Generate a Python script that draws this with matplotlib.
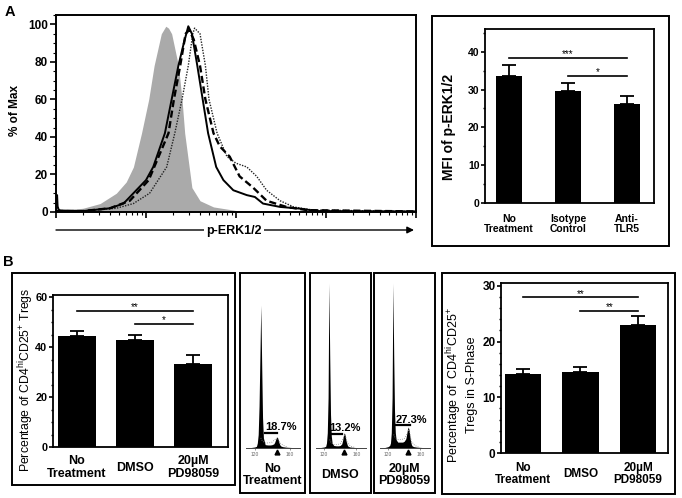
import numpy as np
import matplotlib
matplotlib.use("Agg")
import matplotlib.pyplot as plt
from matplotlib.patches import Rectangle
from matplotlib.ticker import MultipleLocator, LogLocator, NullFormatter

plt.rcParams["font.family"] = ["Liberation Sans", "DejaVu Sans"]
plt.rcParams["font.weight"] = "bold"
plt.rcParams["mathtext.default"] = "regular"

W, H = 682, 498

# ---- panel A: p-ERK1/2 histogram (x in log10 decades, y in % of max)
gray_dec = [0.0, 0.3, 0.49, 0.67, 0.78, 0.86, 0.95, 1.03, 1.09, 1.17, 1.22,
            1.25, 1.285, 1.36, 1.40, 1.43, 1.51, 1.6, 1.75, 2.0, 4.0]
gray_pct = [0.5, 2, 4.5, 10, 16, 24, 42, 60, 78, 95, 99,
            98, 95, 78, 60, 42, 13, 6, 2.7, 0.8, 0.3]
solid_dec = [0.0, 0.012, 0.018, 0.03, 0.05, 0.3, 0.6, 0.75, 0.86, 1.0, 1.08,
             1.21, 1.285, 1.36, 1.42, 1.47, 1.51, 1.57, 1.63, 1.69, 1.78,
             1.86, 1.97, 2.12, 2.21, 2.30, 2.49, 2.71, 2.9, 4.0]
solid_pct = [0.5, 9, 3, 1.2, 0.8, 0.5, 2, 4.5, 10, 17, 24,
             42, 60, 78, 90, 99, 95, 78, 60, 42, 24,
             17, 11.6, 9, 8, 4.5, 2.7, 1.8, 0.5, 0.3]
dash_dec = [0.0, 0.3, 0.6, 0.82, 1.03, 1.25, 1.31, 1.38, 1.44, 1.48, 1.53,
            1.6, 1.66, 1.75, 1.82, 1.93, 2.04, 2.19, 2.34, 2.56, 2.79, 4.0]
dash_pct = [0.5, 0.5, 2, 6, 17, 42, 60, 78, 95, 97, 92,
            78, 60, 42, 35, 29.5, 19, 13, 6, 2.7, 1, 0.3]
dot_dec = [0.0, 0.3, 0.67, 0.86, 1.04, 1.23, 1.32, 1.40, 1.47, 1.52, 1.54,
           1.6, 1.66, 1.70, 1.79, 1.9, 2.0, 2.12, 2.23, 2.34, 2.49, 2.64,
           2.86, 4.0]
dot_pct = [0.3, 0.5, 2, 4.5, 10, 24, 42, 60, 78, 95, 98,
           95, 78, 60, 42, 29.5, 26, 24, 19, 11.6, 6, 2.7,
           1, 0.3]

# ---- panel A: MFI bars
a_labels = ["No\nTreatment", "Isotype\nControl", "Anti-\nTLR5"]
a_mean = [33.5, 29.6, 26.1]
a_err = [3.1, 2.2, 2.1]
a_sig = [(0, 2, 38.4, "***"), (1, 2, 33.7, "*")]

# ---- panel B: Treg percentage bars
b_labels = ["No\nTreatment", "DMSO", "20\u00b5M\nPD98059"]
b1_mean = [44.4, 43.0, 33.5]
b1_err = [2.0, 2.0, 3.3]
b1_sig = [(0, 2, 54.6, "**"), (1, 2, 49.3, "*")]

# ---- panel B: S-phase bars
b2_mean = [14.1, 14.6, 23.0]
b2_err = [1.0, 0.8, 1.6]
b2_sig = [(0, 2, 27.9, "**"), (1, 2, 25.5, "**")]

# ---- panel B: cell-cycle histograms
cycle_ch = [110, 116, 120, 122, 123, 124, 125, 126, 127, 128, 129, 130, 132,
            135, 138, 140, 142, 143, 144, 145, 146, 147, 148, 149, 150, 152,
            156, 162, 172]
nt_counts = [0, 0.3, 0.6, 1, 3, 8, 25, 55, 85, 50, 18, 6, 2,
             1.8, 1.8, 2, 2.5, 3.5, 5, 6.2, 6.5, 5, 3, 1.8, 1.2, 0.8,
             0.5, 0.3, 0.2]
dmso_counts = [0, 0.3, 0.6, 1, 3, 9, 30, 98, 55, 20, 7, 3, 1.5,
               1.3, 1.3, 1.5, 2.5, 4.5, 7.5, 9, 8, 5, 3, 1.5, 1, 0.6,
               0.4, 0.2, 0.1]
pd_counts = [0, 0.3, 0.8, 1.5, 3, 9, 30, 98, 55, 22, 9, 5, 3.5,
             3.5, 3.5, 4, 5.5, 8, 11, 12.5, 11, 7, 4, 2, 1.2, 0.8,
             0.5, 0.3, 0.2]
fit_ch = [127, 129, 132, 136, 140, 143, 146, 149, 153, 158]
nt_fit = [6, 4, 3, 3, 3.5, 5, 6, 3, 1.5, 0.5]
dmso_fit = [5, 3, 2, 2, 2.5, 5, 8, 3, 1, 0.4]
pd_fit = [8, 6, 5, 5, 5.5, 8, 11, 4, 1.5, 0.5]
s_phase_pct = ["18.7%", "13.2%", "27.3%"]
gate_lo = [132, 127, 129]
gate_hi = [146, 142, 147]
gate_y = [9, 8.5, 13.5]
g2_peak = [146, 145, 145]


def px_axes(fig, x0, y0, x1, y1):
    return fig.add_axes([x0 / W, 1 - y1 / H, (x1 - x0) / W, (y1 - y0) / H])


def px_box(fig, x0, y0, x1, y1, lw=1.4):
    fig.add_artist(Rectangle((x0 / W, 1 - y1 / H), (x1 - x0) / W,
                             (y1 - y0) / H, transform=fig.transFigure,
                             fill=False, lw=lw, ec="black"))


def px_text(fig, x, y, s, **kw):
    fig.text(x / W, 1 - y / H, s, **kw)


def bar_panel(ax, labels, means, errs, sigs, ylim, xlim, width, major, minor,
              tick_fs, label_fs, pad):
    x = np.arange(len(means))
    ax.bar(x, means, width=width, color="black", zorder=2)
    ax.errorbar(x, means, yerr=[np.zeros(len(errs)), errs], fmt="none",
                ecolor="black", elinewidth=1.3, capsize=5, capthick=1.3,
                zorder=1)
    for i, j, y, stars in sigs:
        ax.plot([x[i], x[j]], [y, y], color="black", lw=1.2)
        ax.annotate(stars, xy=((x[i] + x[j]) / 2, y), xytext=(0, 0.5),
                    textcoords="offset points", ha="center", va="baseline",
                    fontsize=7, fontweight="normal")
    ax.set_xlim(*xlim)
    ax.set_ylim(*ylim)
    ax.set_xticks(x, labels, fontsize=label_fs)
    for lab in ax.get_xticklabels():
        lab.set_va("center")
        lab.set_linespacing(1.05)
    ax.tick_params(axis="x", length=0, pad=pad)
    ax.yaxis.set_major_locator(MultipleLocator(major))
    ax.yaxis.set_minor_locator(MultipleLocator(minor))
    ax.tick_params(axis="y", which="major", length=3, width=1.2,
                   labelsize=tick_fs, pad=1)
    ax.tick_params(axis="y", which="minor", length=1.8, width=1)
    for s in ax.spines.values():
        s.set_linewidth(1.3)


def main():
    fig = plt.figure(figsize=(W / 100, H / 100), dpi=100)

    # ---------------- A: histogram
    ax = px_axes(fig, 56, 15, 416, 212)
    ax.fill_between(np.power(10.0, gray_dec), gray_pct, color="#aaaaaa", lw=0)
    ax.plot(np.power(10.0, dot_dec), dot_pct, color="#222222", lw=1.0,
            ls=(0, (1, 1)))
    ax.plot(np.power(10.0, dash_dec), dash_pct, color="black", lw=1.7,
            ls=(0, (3, 1.5)))
    ax.plot(np.power(10.0, solid_dec), solid_pct, color="black", lw=1.4)
    ax.set_xscale("log")
    ax.set_xlim(1, 1e4)
    ax.set_ylim(0, 105)
    ax.xaxis.set_major_locator(LogLocator(base=10))
    ax.xaxis.set_minor_locator(LogLocator(base=10, subs=range(2, 10)))
    ax.xaxis.set_major_formatter(NullFormatter())
    ax.xaxis.set_minor_formatter(NullFormatter())
    ax.yaxis.set_major_locator(MultipleLocator(20))
    ax.yaxis.set_minor_locator(MultipleLocator(5))
    ax.tick_params(which="major", length=4, width=1.2, labelsize=8.5, pad=2)
    ax.tick_params(which="minor", length=2, width=0.8)
    for s in ax.spines.values():
        s.set_linewidth(1.4)
    px_text(fig, 15, 110, "% of Max", rotation=90, ha="center", va="center",
            fontsize=8.5)
    ax.annotate("", xy=(414 / W, 1 - 230 / H), xytext=(56 / W, 1 - 230 / H),
                xycoords="figure fraction", textcoords="figure fraction",
                arrowprops=dict(arrowstyle="-|>", color="black", lw=1.0,
                                mutation_scale=10, shrinkA=0, shrinkB=0))
    px_text(fig, 234, 231, "p-ERK1/2", ha="center", va="center", fontsize=9,
            bbox=dict(facecolor="white", edgecolor="none", pad=1.5))
    px_text(fig, 5, 12, "A", ha="left", va="center", fontsize=10.5)

    # ---------------- A: MFI bars
    px_box(fig, 432, 16, 669, 246)
    ax = px_axes(fig, 485, 29, 654, 203)
    bar_panel(ax, a_labels, a_mean, a_err, a_sig, (0, 46), (-0.41, 2.46),
              0.44, 10, 5, 7.5, 7.5, 15)
    px_text(fig, 449, 127, "MFI of p-ERK1/2", rotation=90, ha="center",
            va="center", fontsize=10)

    # ---------------- B: Treg percentage bars
    px_text(fig, 3, 262, "B", ha="left", va="center", fontsize=10.5)
    px_box(fig, 12, 273, 235, 485)
    ax = px_axes(fig, 53, 295, 228, 447)
    bar_panel(ax, b_labels, b1_mean, b1_err, b1_sig, (0, 61), (-0.41, 2.6),
              0.655, 20, 5, 7.8, 9, 14.8)
    px_text(fig, 26, 380,
            "Percentage of CD4$^{hi}$CD25$^{+}$ Tregs", rotation=90,
            ha="center", va="center", fontsize=8.8, fontweight="normal")

    # ---------------- B: cell-cycle histograms
    box_x = [(240, 305), (310, 371), (374, 435)]
    counts = [nt_counts, dmso_counts, pd_counts]
    fits = [nt_fit, dmso_fit, pd_fit]
    for k, (bx0, bx1) in enumerate(box_x):
        px_box(fig, bx0, 273, bx1, 493)
        sax = px_axes(fig, bx0 + 6, 280, bx1 - 5, 448)
        sax.fill_between(cycle_ch, counts[k], color="black", lw=0)
        sax.plot(fit_ch, fits[k], color="#8a8a8a", lw=0.6, ls=":")
        sax.set_xlim(110, 172)
        sax.set_ylim(0, 100)
        for side in ("left", "top", "right"):
            sax.spines[side].set_visible(False)
        sax.spines["bottom"].set_linewidth(0.7)
        sax.spines["bottom"].set_color("#444444")
        sax.set_yticks([])
        sax.set_xticks([120, 160], ["120", "160"])
        sax.tick_params(axis="x", length=1.5, width=0.5, colors="#666666",
                        labelsize=3.5, pad=1.5)
        for lab in sax.get_xticklabels():
            lab.set_fontweight("normal")
        sax.plot([gate_lo[k], gate_hi[k]], [gate_y[k], gate_y[k]],
                 color="black", lw=1.6, clip_on=False)
        sax.annotate(s_phase_pct[k], xy=(gate_lo[k], gate_y[k]),
                     xytext=(0, 1.8), textcoords="offset points", ha="left",
                     va="baseline", fontsize=8)
        sax.plot([g2_peak[k]], [-2.6], marker="^", ms=3.5, color="black",
                 clip_on=False)
        px_text(fig, (bx0 + bx1) / 2, 475, b_labels[k], ha="center",
                va="center", fontsize=9, linespacing=1.05)

    # ---------------- B: S-phase bars
    px_box(fig, 442, 273, 675, 494)
    ax = px_axes(fig, 501, 283, 668, 453)
    bar_panel(ax, b_labels, b2_mean, b2_err, b2_sig, (0, 30.5),
              (-0.38, 2.52), 0.63, 10, 2, 8.5, 8.5, 15)
    px_text(fig, 461, 385,
            "Percentage of  CD4$^{hi}$CD25$^{+}$\nTregs in S-Phase",
            rotation=90, ha="center", va="center", multialignment="center",
            fontsize=9, fontweight="normal", linespacing=1.2)

    fig.savefig("out.png", dpi=100)


if __name__ == "__main__":
    main()
